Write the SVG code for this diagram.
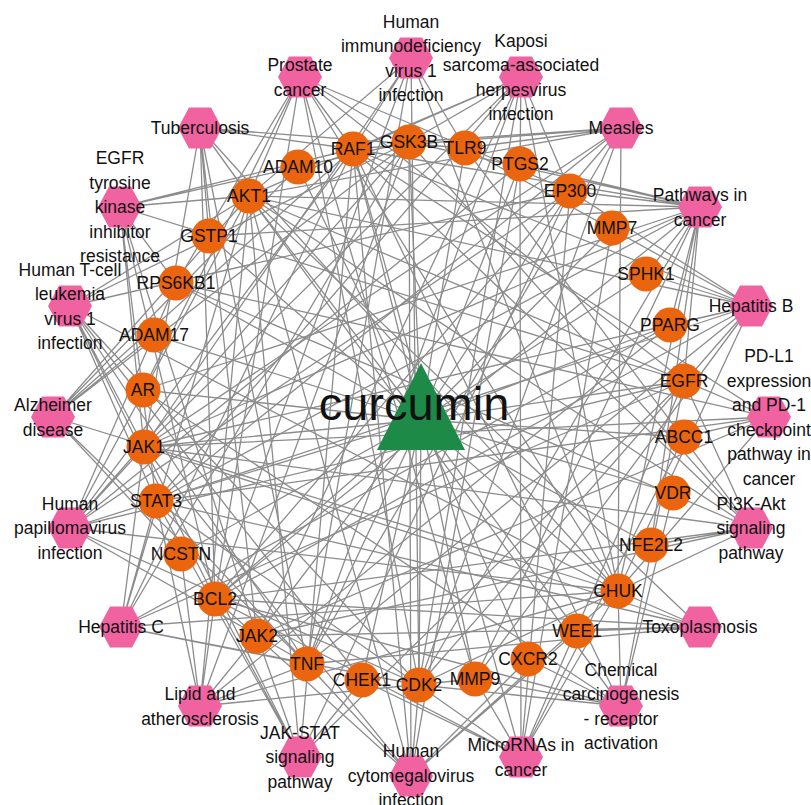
<svg xmlns="http://www.w3.org/2000/svg" xmlns:xlink="http://www.w3.org/1999/xlink" width="811" height="805" viewBox="0 0 811 805">
<style>
.e{fill:none;stroke:#8c8c8c;stroke-width:1.3}
.hx{fill:#f062a0}
.gn{fill:#eb650e}
.dr{fill:#1d8a47}
text{font-family:"Liberation Sans",Arial,sans-serif;font-size:17.5px;fill:#111;text-anchor:middle}
.big{font-size:47px}
</style>
<defs>
<polygon id="hex" points="-22,0 -11,-20.5 11,-20.5 22,0 11,20.5 -11,20.5"/>
</defs>
<rect width="811" height="805" fill="#fff"/>
<g id="connectors">
<path class="e" d="M421 420L353 149M421 420L409 142M421 420L465 148M421 420L520 164M421 420L570 191M421 420L612 228M421 420L646 274M421 420L670 325M421 420L684 381M421 420L684 437M421 420L673 493M421 420L651 545M421 420L618 591M421 420L577 631M421 420L528 659M421 420L475 679M421 420L419 685M421 420L362 680M421 420L307 664M421 420L257 636M421 420L215 599M421 420L181 554M421 420L156 501M421 420L144 447M421 420L143 390M421 420L154 335M421 420L176 283M421 420L209 236M421 420L249 196M421 420L298 167"/>
<path class="e" d="M700 207L353 149M700 207L409 142M700 207L520 164M700 207L570 191M700 207L475 679M700 207L684 381M700 207L670 325M700 207L618 591M700 207L419 685M700 207L156 501M700 207L144 447M700 207L215 599M700 207L249 196M700 207L651 545M700 207L209 236M700 207L143 390M700 207L646 274"/>
<path class="e" d="M751 306L353 149M751 306L465 148M751 306L570 191M751 306L618 591M751 306L419 685M751 306L475 679M751 306L156 501M751 306L144 447M751 306L215 599M751 306L307 664M751 306L249 196M751 306L646 274M751 306L670 325"/>
<path class="e" d="M769 417L353 149M769 417L618 591M769 417L156 501M769 417L144 447M769 417L257 636M769 417L684 381M769 417L249 196M769 417L176 283M769 417L684 437"/>
<path class="e" d="M751 528L353 149M751 528L409 142M751 528L684 381M751 528L419 685M751 528L215 599M751 528L144 447M751 528L257 636M751 528L618 591M751 528L249 196M751 528L176 283M751 528L465 148M751 528L651 545"/>
<path class="e" d="M700 627L307 664M700 627L618 591M700 627L215 599M700 627L156 501M700 627L144 447M700 627L257 636M700 627L249 196M700 627L577 631"/>
<path class="e" d="M621 706L353 149M621 706L684 381M621 706L143 390M621 706L673 493M621 706L618 591M621 706L215 599M621 706L249 196M621 706L419 685M621 706L528 659M621 706L475 679"/>
<path class="e" d="M521 757L353 149M521 757L520 164M521 757L684 381M521 757L475 679M521 757L215 599M521 757L156 501M521 757L684 437M521 757L570 191M521 757L618 591M521 757L362 680M521 757L612 228"/>
<path class="e" d="M411 776L353 149M411 776L409 142M411 776L520 164M411 776L618 591M411 776L307 664M411 776L528 659M411 776L215 599M411 776L156 501M411 776L144 447M411 776L249 196M411 776L419 685M411 776L577 631"/>
<path class="e" d="M300 757L353 149M300 757L570 191M300 757L684 381M300 757L215 599M300 757L156 501M300 757L144 447M300 757L257 636M300 757L249 196M300 757L362 680"/>
<path class="e" d="M200 706L409 142M200 706L670 325M200 706L475 679M200 706L618 591M200 706L307 664M200 706L215 599M200 706L156 501M200 706L257 636M200 706L249 196M200 706L181 554"/>
<path class="e" d="M121 627L353 149M121 627L409 142M121 627L684 381M121 627L618 591M121 627L419 685M121 627L307 664M121 627L156 501M121 627L144 447M121 627L249 196M121 627L670 325"/>
<path class="e" d="M70 528L409 142M70 528L570 191M70 528L520 164M70 528L618 591M70 528L419 685M70 528L307 664M70 528L156 501M70 528L144 447M70 528L249 196M70 528L176 283M70 528L353 149M70 528L684 381"/>
<path class="e" d="M53 417L409 142M53 417L353 149M53 417L307 664M53 417L618 591M53 417L181 554M53 417L298 167M53 417L154 335M53 417L249 196"/>
<path class="e" d="M70 306L409 142M70 306L570 191M70 306L618 591M70 306L307 664M70 306L156 501M70 306L144 447M70 306L215 599M70 306L249 196M70 306L419 685M70 306L362 680"/>
<path class="e" d="M120 207L353 149M120 207L409 142M120 207L684 381M120 207L215 599M120 207L156 501M120 207L144 447M120 207L257 636M120 207L249 196M120 207L176 283"/>
<path class="e" d="M200 128L353 149M200 128L465 148M200 128L618 591M200 128L307 664M200 128L215 599M200 128L144 447M200 128L257 636M200 128L249 196M200 128L209 236"/>
<path class="e" d="M300 77L353 149M300 77L409 142M300 77L570 191M300 77L684 381M300 77L618 591M300 77L419 685M300 77L215 599M300 77L143 390M300 77L249 196M300 77L176 283M300 77L475 679"/>
<path class="e" d="M411 58L353 149M411 58L465 148M411 58L618 591M411 58L307 664M411 58L215 599M411 58L144 447M411 58L249 196M411 58L419 685"/>
<path class="e" d="M521 77L353 149M521 77L409 142M521 77L570 191M521 77L520 164M521 77L618 591M521 77L419 685M521 77L307 664M521 77L156 501M521 77L144 447M521 77L257 636M521 77L249 196"/>
<path class="e" d="M621 128L409 142M621 128L465 148M621 128L618 591M621 128L419 685M621 128L307 664M621 128L156 501M621 128L144 447M621 128L215 599M621 128L249 196M621 128L353 149"/>
</g>
<g id="pathways">
<g id="p-prostate"><use xlink:href="#hex" href="#hex" class="hx" x="300" y="77"/><text x="300" y="71">Prostate<tspan x="300" dy="24.5">cancer</tspan></text></g>
<g id="p-hiv"><use xlink:href="#hex" href="#hex" class="hx" x="411" y="58"/><text x="411" y="27.5">Human<tspan x="411" dy="24.5">immunodeficiency</tspan><tspan x="411" dy="24.5">virus 1</tspan><tspan x="411" dy="24.5">infection</tspan></text></g>
<g id="p-kaposi"><use xlink:href="#hex" href="#hex" class="hx" x="521" y="77"/><text x="521" y="46.5">Kaposi<tspan x="521" dy="24.5">sarcoma-associated</tspan><tspan x="521" dy="24.5">herpesvirus</tspan><tspan x="521" dy="24.5">infection</tspan></text></g>
<g id="p-measles"><use xlink:href="#hex" href="#hex" class="hx" x="621" y="128"/><text x="621" y="134.3">Measles</text></g>
<g id="p-pathways-cancer"><use xlink:href="#hex" href="#hex" class="hx" x="700" y="207"/><text x="700" y="201">Pathways in<tspan x="700" dy="24.5">cancer</tspan></text></g>
<g id="p-hepb"><use xlink:href="#hex" href="#hex" class="hx" x="751" y="306"/><text x="751" y="312.3">Hepatitis B</text></g>
<g id="p-pdl1"><use xlink:href="#hex" href="#hex" class="hx" x="769" y="417"/><text x="769" y="362">PD-L1<tspan x="769" dy="24.5">expression</tspan><tspan x="769" dy="24.5">and PD-1</tspan><tspan x="769" dy="24.5">checkpoint</tspan><tspan x="769" dy="24.5">pathway in</tspan><tspan x="769" dy="24.5">cancer</tspan></text></g>
<g id="p-pi3k"><use xlink:href="#hex" href="#hex" class="hx" x="751" y="528"/><text x="751" y="509.8">PI3K-Akt<tspan x="751" dy="24.5">signaling</tspan><tspan x="751" dy="24.5">pathway</tspan></text></g>
<g id="p-toxo"><use xlink:href="#hex" href="#hex" class="hx" x="700" y="627"/><text x="700" y="633.3">Toxoplasmosis</text></g>
<g id="p-chemical"><use xlink:href="#hex" href="#hex" class="hx" x="621" y="706"/><text x="621" y="675.5">Chemical<tspan x="621" dy="24.5">carcinogenesis</tspan><tspan x="621" dy="24.5">- receptor</tspan><tspan x="621" dy="24.5">activation</tspan></text></g>
<g id="p-microrna"><use xlink:href="#hex" href="#hex" class="hx" x="521" y="757"/><text x="521" y="751">MicroRNAs in<tspan x="521" dy="24.5">cancer</tspan></text></g>
<g id="p-hcmv"><use xlink:href="#hex" href="#hex" class="hx" x="411" y="776"/><text x="411" y="757">Human<tspan x="411" dy="24.5">cytomegalovirus</tspan><tspan x="411" dy="24.5">infection</tspan></text></g>
<g id="p-jakstat"><use xlink:href="#hex" href="#hex" class="hx" x="300" y="757"/><text x="300" y="738.8">JAK-STAT<tspan x="300" dy="24.5">signaling</tspan><tspan x="300" dy="24.5">pathway</tspan></text></g>
<g id="p-lipid"><use xlink:href="#hex" href="#hex" class="hx" x="200" y="706"/><text x="200" y="700">Lipid and<tspan x="200" dy="24.5">atherosclerosis</tspan></text></g>
<g id="p-hepc"><use xlink:href="#hex" href="#hex" class="hx" x="121" y="627"/><text x="121" y="633.3">Hepatitis C</text></g>
<g id="p-hpv"><use xlink:href="#hex" href="#hex" class="hx" x="70" y="528"/><text x="70" y="509.8">Human<tspan x="70" dy="24.5">papillomavirus</tspan><tspan x="70" dy="24.5">infection</tspan></text></g>
<g id="p-alzheimer"><use xlink:href="#hex" href="#hex" class="hx" x="53" y="417"/><text x="53" y="411">Alzheimer<tspan x="53" dy="24.5">disease</tspan></text></g>
<g id="p-htlv"><use xlink:href="#hex" href="#hex" class="hx" x="70" y="306"/><text x="70" y="275.5">Human T-cell<tspan x="70" dy="24.5">leukemia</tspan><tspan x="70" dy="24.5">virus 1</tspan><tspan x="70" dy="24.5">infection</tspan></text></g>
<g id="p-egfr-tki"><use xlink:href="#hex" href="#hex" class="hx" x="120" y="207"/><text x="120" y="164.3">EGFR<tspan x="120" dy="24.5">tyrosine</tspan><tspan x="120" dy="24.5">kinase</tspan><tspan x="120" dy="24.5">inhibitor</tspan><tspan x="120" dy="24.5">resistance</tspan></text></g>
<g id="p-tuberculosis"><use xlink:href="#hex" href="#hex" class="hx" x="200" y="128"/><text x="200" y="134.3">Tuberculosis</text></g>
</g>
<g id="targets">
<g id="g-RAF1"><circle class="gn" cx="353" cy="149" r="17.5"/><text x="353" y="155.3">RAF1</text></g>
<g id="g-GSK3B"><circle class="gn" cx="409" cy="142" r="17.5"/><text x="409" y="148.3">GSK3B</text></g>
<g id="g-TLR9"><circle class="gn" cx="465" cy="148" r="17.5"/><text x="465" y="154.3">TLR9</text></g>
<g id="g-PTGS2"><circle class="gn" cx="520" cy="164" r="17.5"/><text x="520" y="170.3">PTGS2</text></g>
<g id="g-EP300"><circle class="gn" cx="570" cy="191" r="17.5"/><text x="570" y="197.3">EP300</text></g>
<g id="g-MMP7"><circle class="gn" cx="612" cy="228" r="17.5"/><text x="612" y="234.3">MMP7</text></g>
<g id="g-SPHK1"><circle class="gn" cx="646" cy="274" r="17.5"/><text x="646" y="280.3">SPHK1</text></g>
<g id="g-PPARG"><circle class="gn" cx="670" cy="325" r="17.5"/><text x="670" y="331.3">PPARG</text></g>
<g id="g-EGFR"><circle class="gn" cx="684" cy="381" r="17.5"/><text x="684" y="387.3">EGFR</text></g>
<g id="g-ABCC1"><circle class="gn" cx="684" cy="437" r="17.5"/><text x="684" y="443.3">ABCC1</text></g>
<g id="g-VDR"><circle class="gn" cx="673" cy="493" r="17.5"/><text x="673" y="499.3">VDR</text></g>
<g id="g-NFE2L2"><circle class="gn" cx="651" cy="545" r="17.5"/><text x="651" y="551.3">NFE2L2</text></g>
<g id="g-CHUK"><circle class="gn" cx="618" cy="591" r="17.5"/><text x="618" y="597.3">CHUK</text></g>
<g id="g-WEE1"><circle class="gn" cx="577" cy="631" r="17.5"/><text x="577" y="637.3">WEE1</text></g>
<g id="g-CXCR2"><circle class="gn" cx="528" cy="659" r="17.5"/><text x="528" y="665.3">CXCR2</text></g>
<g id="g-MMP9"><circle class="gn" cx="475" cy="679" r="17.5"/><text x="475" y="685.3">MMP9</text></g>
<g id="g-CDK2"><circle class="gn" cx="419" cy="685" r="17.5"/><text x="419" y="691.3">CDK2</text></g>
<g id="g-CHEK1"><circle class="gn" cx="362" cy="680" r="17.5"/><text x="362" y="686.3">CHEK1</text></g>
<g id="g-TNF"><circle class="gn" cx="307" cy="664" r="17.5"/><text x="307" y="670.3">TNF</text></g>
<g id="g-JAK2"><circle class="gn" cx="257" cy="636" r="17.5"/><text x="257" y="642.3">JAK2</text></g>
<g id="g-BCL2"><circle class="gn" cx="215" cy="599" r="17.5"/><text x="215" y="605.3">BCL2</text></g>
<g id="g-NCSTN"><circle class="gn" cx="181" cy="554" r="17.5"/><text x="181" y="560.3">NCSTN</text></g>
<g id="g-STAT3"><circle class="gn" cx="156" cy="501" r="17.5"/><text x="156" y="507.3">STAT3</text></g>
<g id="g-JAK1"><circle class="gn" cx="144" cy="447" r="17.5"/><text x="144" y="453.3">JAK1</text></g>
<g id="g-AR"><circle class="gn" cx="143" cy="390" r="17.5"/><text x="143" y="396.3">AR</text></g>
<g id="g-ADAM17"><circle class="gn" cx="154" cy="335" r="17.5"/><text x="154" y="341.3">ADAM17</text></g>
<g id="g-RPS6KB1"><circle class="gn" cx="176" cy="283" r="17.5"/><text x="176" y="289.3">RPS6KB1</text></g>
<g id="g-GSTP1"><circle class="gn" cx="209" cy="236" r="17.5"/><text x="209" y="242.3">GSTP1</text></g>
<g id="g-AKT1"><circle class="gn" cx="249" cy="196" r="17.5"/><text x="249" y="202.3">AKT1</text></g>
<g id="g-ADAM10"><circle class="gn" cx="298" cy="167" r="17.5"/><text x="298" y="173.3">ADAM10</text></g>
</g>
<g id="curcumin">
<polygon class="dr" points="421,363 377,450 465,450"/>
<text class="big" x="414" y="420">curcumin</text>
</g>
</svg>
